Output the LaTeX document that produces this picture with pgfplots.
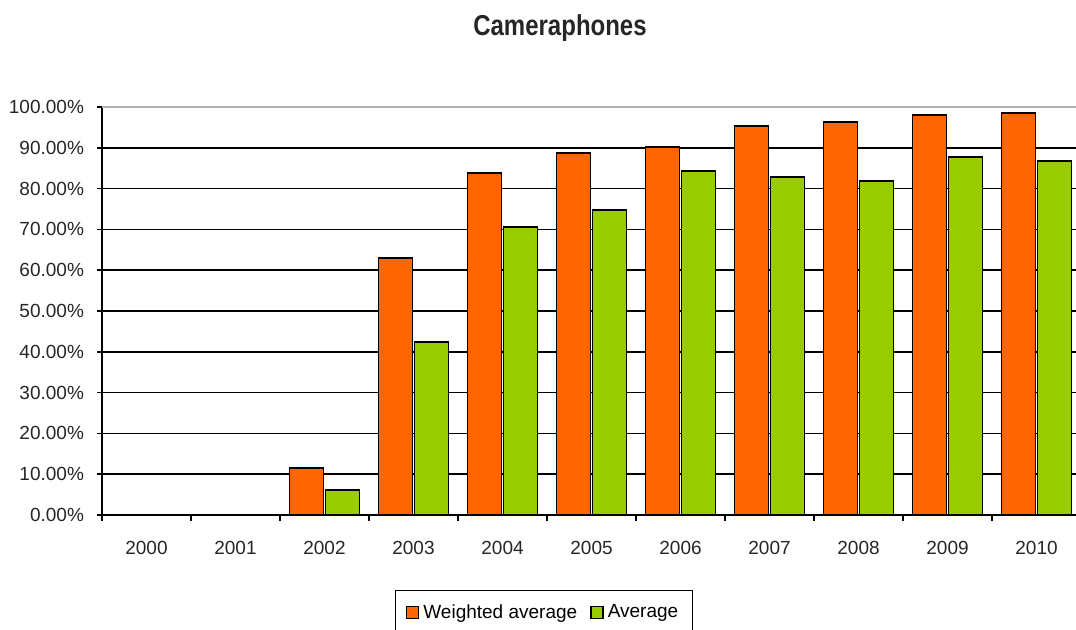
\documentclass[border=0pt]{standalone}
\usepackage{pgfplots}
\pgfplotsset{compat=1.18}
\usepackage{fontspec}
\setmainfont{Liberation Sans}
\definecolor{worange}{HTML}{FF6600}
\definecolor{wgreen}{HTML}{99CC00}
\begin{document}
\begin{tikzpicture}[x=1pt,y=1pt]
  % 1 px of the reference = 0.5pt
  \begin{axis}[
    at={(51pt,-257.5pt)}, anchor=south west,
    scale only axis,
    width=489.5pt, height=204pt,
    ybar=1pt,
    bar width=17pt,
    xmin=-0.5, xmax=10.5,
    ymin=0, ymax=100,
    xtick={0,...,10},
    xticklabels={2000,2001,2002,2003,2004,2005,2006,2007,2008,2009,2010},
    minor xtick={-0.5,0.5,...,10.5},
    ytick={0,10,...,100},
    yticklabel={\pgfmathprintnumber[fixed,fixed zerofill,precision=2]{\tick}\%},
    /pgf/number format/assume math mode=true,
    tick align=outside,
    major tick length=2.5pt,
    minor tick length=3pt,
    x tick style={draw=none},
    minor x tick style={draw=black, line width=0.8pt},
    y tick style={black, line width=0.8pt},
    axis x line*=bottom, axis y line*=left,
    axis line style={-, black, line width=0.8pt},
    ymajorgrids,
    major grid style={black, line width=0.85pt},
    tick label style={font=\fontsize{9.5}{11}\selectfont, text=black!85},
    xticklabel style={yshift=-7pt},
    yticklabel style={xshift=-3pt},
    legend style={at={(0.4515,-0.183)}, anchor=north, draw=black,
      line width=0.6pt, legend columns=2,
      inner xsep=5pt, inner ysep=5pt,
      font=\fontsize{9.5}{11}\selectfont,
      /tikz/every even column/.append style={column sep=4.5pt}},
    legend image code/.code={\draw[#1, line width=0.8pt] (0pt,-3pt) rectangle (6pt,3pt);},
  ]
    \draw[gray!60, line width=0.8pt] (axis cs:-0.5,100) -- (axis cs:10.5,100);
    \addplot[draw=black, line width=0.9pt, fill=worange] coordinates {
      (0,0) (1,0) (2,11.6) (3,63.0) (4,83.8) (5,88.7) (6,90.2)
      (7,95.3) (8,96.4) (9,98.0) (10,98.5)
    };
    \addlegendentry{Weighted average}
    \addplot[draw=black, line width=0.9pt, fill=wgreen] coordinates {
      (0,0) (1,0) (2,6.1) (3,42.4) (4,70.6) (5,74.8) (6,84.3)
      (7,82.8) (8,81.9) (9,87.8) (10,86.8)
    };
    \addlegendentry{Average}
  \end{axis}
  \node[text=black!85] at (280pt,-14pt) {\scalebox{1}[1.2]{\bfseries\fontsize{12}{14}\selectfont Cameraphones}};
  \pgfresetboundingbox
  \path[use as bounding box] (0pt,0pt) rectangle (538pt,-315pt);
\end{tikzpicture}
\end{document}
